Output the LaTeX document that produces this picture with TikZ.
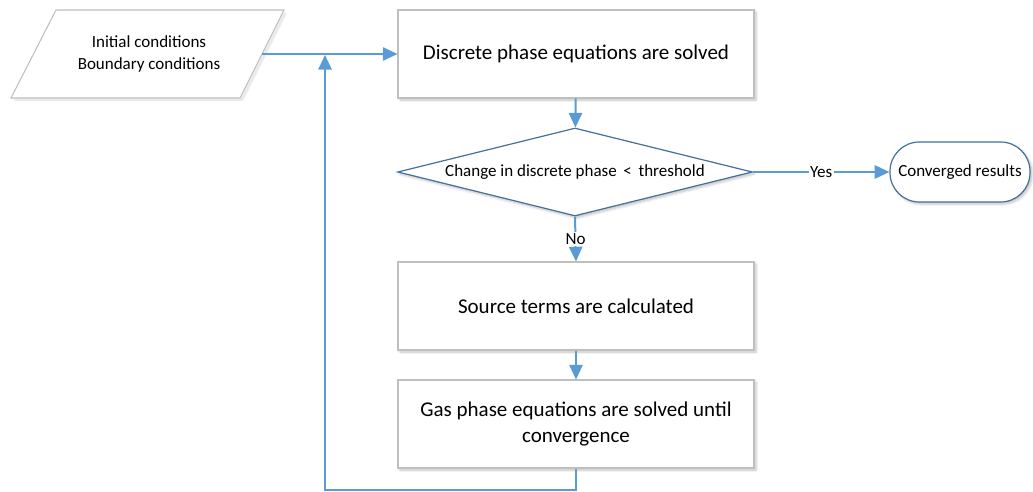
\documentclass[tikz,border=0pt]{standalone}
\usepackage{fontspec}
\setmainfont{Carlito}
\usetikzlibrary{shapes.geometric,arrows.meta,shadows.blur}
\definecolor{arrowblue}{HTML}{5B9BD5}
\definecolor{darkblue}{HTML}{41719C}
\definecolor{boxgray}{HTML}{BFBFBF}
\begin{document}
\begin{tikzpicture}[x=0.75pt,y=-0.75pt,
  procbox/.style={draw=boxgray,line width=0.8pt,fill=white,minimum width=267pt,minimum height=66pt,inner sep=0pt,align=center,font=\fontsize{15.75}{19}\selectfont,
    blur shadow={shadow xshift=1.5pt,shadow yshift=-1.5pt,shadow blur steps=5,shadow opacity=25}},
  decision/.style={diamond,shape aspect=4,draw=darkblue,line width=0.9pt,fill=white,minimum width=266pt,minimum height=66pt,inner sep=0pt,font=\fontsize{12.75}{15}\selectfont,
    blur shadow={shadow xshift=1.5pt,shadow yshift=-1.5pt,shadow blur steps=5,shadow opacity=25}},
  terminal/.style={draw=darkblue,line width=0.9pt,fill=white,rounded corners=22pt,minimum width=105pt,minimum height=45pt,inner sep=0pt,font=\fontsize{12.75}{15}\selectfont,
    blur shadow={shadow xshift=1.5pt,shadow yshift=-1.5pt,shadow blur steps=5,shadow opacity=25}},
  flow/.style={draw=arrowblue,line width=1.5pt,-{Triangle[length=11pt,width=10pt]}},
  lbl/.style={font=\fontsize{12.75}{15}\selectfont,fill=white,inner sep=1pt}]
\useasboundingbox (0,0) rectangle (1033,492);
% input parallelogram
\coordinate (pA) at (56,10);
\coordinate (pB) at (284,10);
\coordinate (pC) at (240,98);
\coordinate (pD) at (11,98);
\coordinate (pR) at (262,54);
\fill[black,opacity=0.08] (59,13) -- (287,13) -- (243,101) -- (14,101) -- cycle;
\draw[draw=boxgray,line width=0.8pt,fill=white] (pA) -- (pB) -- (pC) -- (pD) -- cycle;
\node[align=center,font=\fontsize{12.75}{16}\selectfont] (init) at (149,54) {Initial conditions\\Boundary conditions};
% boxes
\node[procbox] (b1) at (576,54) {Discrete phase equations are solved};
\node[decision] (d) at (575,172) {Change in discrete phase \,<\, threshold};
\node[terminal] (t) at (960,172) {Converged results};
\node[procbox] (b2) at (576,306) {Source terms are calculated};
\node[procbox] (b3) at (576,424) {Gas phase equations are solved until\\convergence};
% connectors
\draw[flow] (pR) -- (b1.west |- pR);
\draw[flow] (b1) -- (d);
\draw[flow] (d.east) -- node[lbl,pos=0.5]{Yes} (t.west);
\draw[flow] (d.south) -- node[lbl,pos=0.5]{No} (b2.north);
\draw[flow] (b2) -- (b3);
\coordinate (lp1) at (576,490);
\coordinate (lp2) at (325,490);
\coordinate (lp3) at (325,55);
\draw[flow] (b3.south) -- (lp1) -- (lp2) -- (lp3);
\end{tikzpicture}
\end{document}
